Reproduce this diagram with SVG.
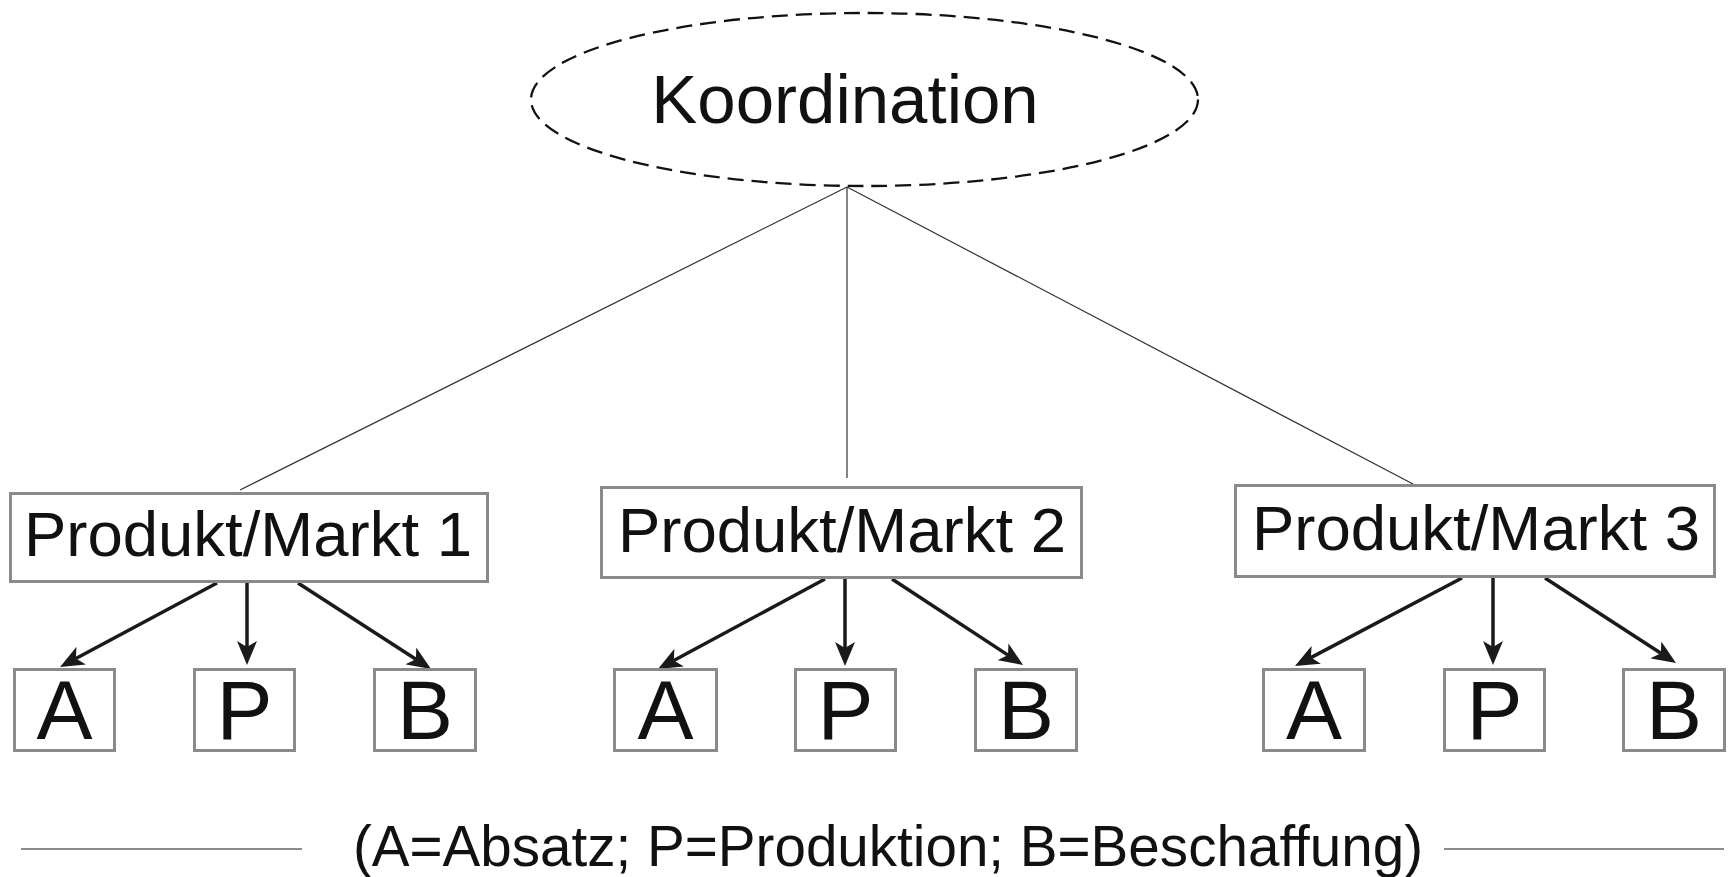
<svg xmlns="http://www.w3.org/2000/svg" width="1734" height="877" viewBox="0 0 1734 877">
  <style>
    text { font-family: "Liberation Sans", Arial, sans-serif; fill: #111; text-anchor: middle; }
    .pm rect { fill: #fff; stroke: #8a8a8a; stroke-width: 3; }
    .pm text { font-size: 63.5px; }
    .leaf rect { fill: #fff; stroke: #8a8a8a; stroke-width: 3; }
    .leaf text { font-size: 84px; }
    .thin { stroke: #333; stroke-width: 1.2; fill: none; }
    .arrow { stroke: #1a1a1a; stroke-width: 3.5; fill: none; marker-end: url(#head); }
    .rule { stroke: #666; stroke-width: 1.5; }
  </style>
  <defs>
    <marker id="head" viewBox="0 0 24 20" refX="6" refY="10" markerWidth="24" markerHeight="20" markerUnits="userSpaceOnUse" orient="auto">
      <path d="M24,10 L0,0 L6,10 L0,20 Z" fill="#1a1a1a"/>
    </marker>
  </defs>
  <rect width="1734" height="877" fill="#fff"/>

  <!-- connectors -->
  <g id="connectors">
    <line class="thin" x1="847" y1="187" x2="240" y2="490"/>
    <line class="thin" x1="847" y1="187" x2="847" y2="478"/>
    <line class="thin" x1="847" y1="187" x2="1413" y2="484"/>

    <line class="arrow" x1="217" y1="583" x2="75.9" y2="658.5"/>
    <line class="arrow" x1="247" y1="583" x2="247" y2="647"/>
    <line class="arrow" x1="298" y1="583" x2="415.9" y2="659.2"/>

    <line class="arrow" x1="825" y1="579" x2="673.8" y2="660.5"/>
    <line class="arrow" x1="845" y1="579" x2="845" y2="648"/>
    <line class="arrow" x1="892" y1="579" x2="1008" y2="655.1"/>

    <line class="arrow" x1="1462" y1="578" x2="1310.9" y2="657.6"/>
    <line class="arrow" x1="1493" y1="578" x2="1493" y2="647"/>
    <line class="arrow" x1="1545" y1="578" x2="1660.9" y2="653.2"/>
  </g>

  <!-- coordination ellipse -->
  <g id="koordination">
    <ellipse cx="864.5" cy="99.5" rx="333.5" ry="86.5" fill="none" stroke="#111" stroke-width="2.3" stroke-dasharray="16 8"/>
    <text x="845" y="123" font-size="69">Koordination</text>
  </g>

  <!-- product/market units -->
  <g id="pm1" class="pm">
    <rect x="10.5" y="493.5" width="477" height="88"/>
    <text x="248" y="556">Produkt/Markt 1</text>
  </g>
  <g id="pm2" class="pm">
    <rect x="601.5" y="487.5" width="480" height="90"/>
    <text x="842" y="552">Produkt/Markt 2</text>
  </g>
  <g id="pm3" class="pm">
    <rect x="1235.5" y="485.5" width="479" height="91"/>
    <text x="1476" y="550">Produkt/Markt 3</text>
  </g>

  <!-- functions -->
  <g id="pm1-a" class="leaf"><rect x="14.5" y="669.5" width="100" height="81"/><text x="64.5" y="739">A</text></g>
  <g id="pm1-p" class="leaf"><rect x="194.5" y="669.5" width="100" height="81"/><text x="244.5" y="739">P</text></g>
  <g id="pm1-b" class="leaf"><rect x="374.5" y="669.5" width="101" height="81"/><text x="425" y="739">B</text></g>

  <g id="pm2-a" class="leaf"><rect x="614.5" y="669.5" width="102" height="81"/><text x="665.5" y="739">A</text></g>
  <g id="pm2-p" class="leaf"><rect x="795.5" y="669.5" width="100" height="81"/><text x="845.5" y="739">P</text></g>
  <g id="pm2-b" class="leaf"><rect x="975.5" y="669.5" width="101" height="81"/><text x="1026" y="739">B</text></g>

  <g id="pm3-a" class="leaf"><rect x="1263.5" y="669.5" width="101" height="81"/><text x="1314" y="739">A</text></g>
  <g id="pm3-p" class="leaf"><rect x="1444.5" y="669.5" width="100" height="81"/><text x="1494.5" y="739">P</text></g>
  <g id="pm3-b" class="leaf"><rect x="1623.5" y="669.5" width="101" height="81"/><text x="1674" y="739">B</text></g>

  <!-- legend -->
  <g id="legend">
    <line class="rule" x1="21" y1="849" x2="302" y2="849"/>
    <line class="rule" x1="1444" y1="849" x2="1724" y2="849"/>
    <text x="888" y="866" font-size="56.6">(A=Absatz; P=Produktion; B=Beschaffung)</text>
  </g>
</svg>
